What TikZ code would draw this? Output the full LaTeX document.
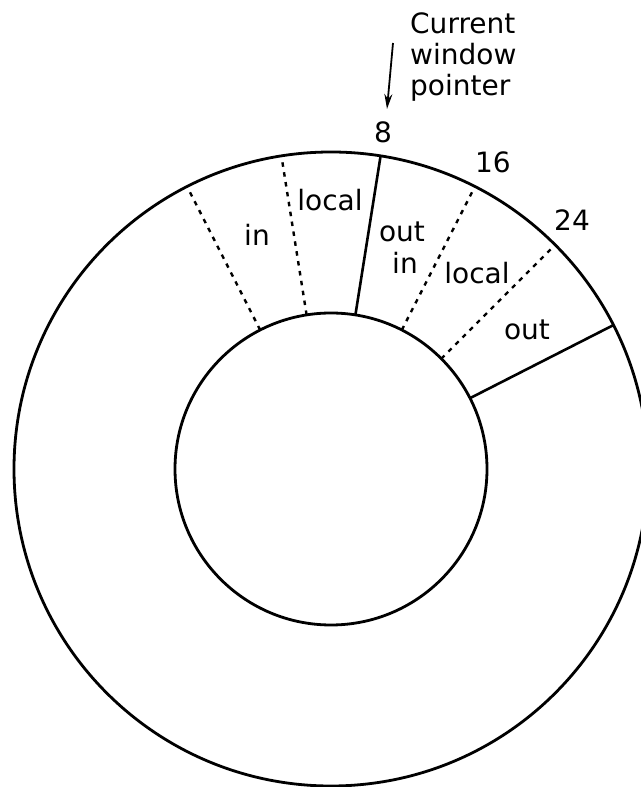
\documentclass[tikz,border=0pt]{standalone}
\usepackage{fontspec}
\setmainfont{DejaVu Sans}
\usetikzlibrary{arrows.meta}
\begin{document}
\begin{tikzpicture}[x=1pt,y=1pt,
  ring/.style={line width=2.8pt},
  solidsep/.style={line width=2.6pt},
  dashsep/.style={line width=2.4pt, dash pattern=on 4.5pt off 5.5pt},
  lbl/.style={font=\fontsize{28}{31}\selectfont, inner sep=0pt},
  ptrarrow/.style={line width=1.8pt, -{Stealth[length=15pt,width=8pt]}}]
\useasboundingbox (0,0) rectangle (640,787);
\coordinate (c) at (331,318);
% circles
\draw[ring] (c) circle[radius=317];
\draw[ring] (c) circle[radius=156];
% dashed separators
\foreach \a in {117,99,63,45}
  \draw[dashsep] ([shift={(\a:156)}]c) -- ([shift={(\a:317)}]c);
% solid separators
\foreach \a in {81,27}
  \draw[solidsep] ([shift={(\a:156)}]c) -- ([shift={(\a:317)}]c);
% window labels
\node[lbl] (in1) at (257,552) {in};
\node[lbl] (local1) at (330,587) {local};
\node[lbl] (out1) at (402,555) {out};
\node[lbl] (in2) at (405,524) {in};
\node[lbl] (local2) at (477,514) {local};
\node[lbl] (out2) at (527,457) {out};
% numbers
\node[lbl] (n8) at (383,655) {8};
\node[lbl] (n16) at (493,625) {16};
\node[lbl] (n24) at (572,567) {24};
% pointer
\node[lbl, align=left, anchor=north west] (ptr) at (410,774) {Current\\window\\pointer};
\coordinate (arrS) at (393,744);
\coordinate (arrE) at (387,678);
\draw[ptrarrow] (arrS) -- (arrE);
\end{tikzpicture}
\end{document}
